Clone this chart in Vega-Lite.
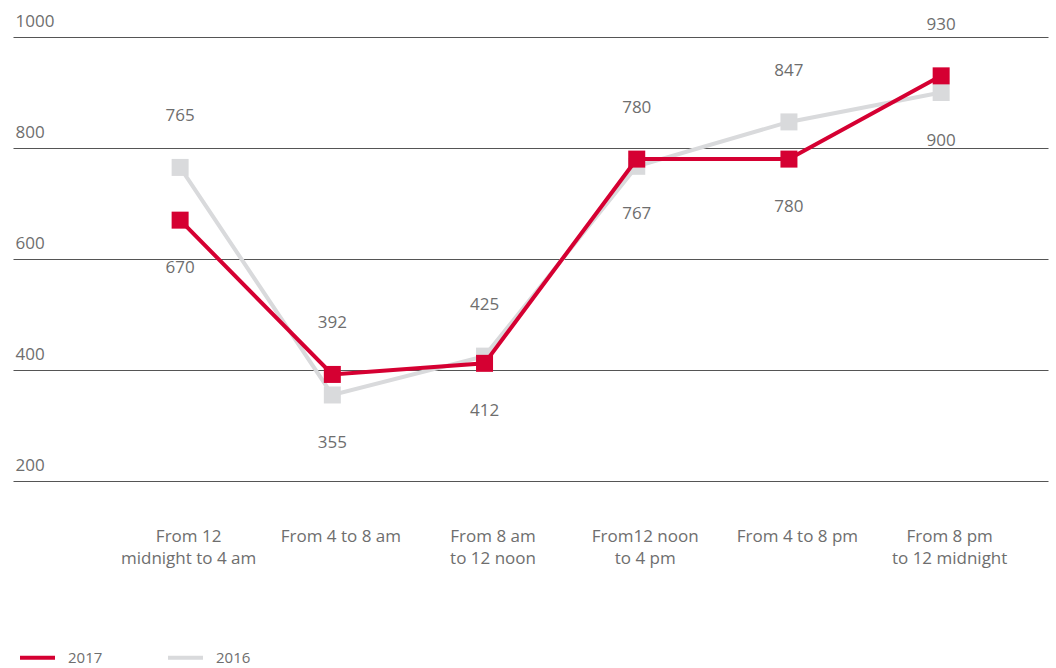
{
  "$schema": "https://vega.github.io/schema/vega-lite/v6.json",
  "width": 1035,
  "height": 444,
  "autosize": {"type": "none"},
  "padding": {"left": 13, "top": 37, "right": 8, "bottom": 187},
  "config": {
    "font": "Open Sans",
    "view": {"stroke": null},
    "text": {"font": "Open Sans"}
  },
  "data": {
    "values": [
      {"time": "From 12|midnight to 4 am", "year": "2017", "value": 670},
      {"time": "From 4 to 8 am", "year": "2017", "value": 392},
      {"time": "From 8 am|to 12 noon", "year": "2017", "value": 412},
      {"time": "From12 noon|to 4 pm", "year": "2017", "value": 780},
      {"time": "From 4 to 8 pm", "year": "2017", "value": 780},
      {"time": "From 8 pm|to 12 midnight", "year": "2017", "value": 930},
      {"time": "From 12|midnight to 4 am", "year": "2016", "value": 765},
      {"time": "From 4 to 8 am", "year": "2016", "value": 355},
      {"time": "From 8 am|to 12 noon", "year": "2016", "value": 425},
      {"time": "From12 noon|to 4 pm", "year": "2016", "value": 767},
      {"time": "From 4 to 8 pm", "year": "2016", "value": 847},
      {"time": "From 8 pm|to 12 midnight", "year": "2016", "value": 900}
    ]
  },
  "transform": [
    {"joinaggregate": [{"op": "max", "field": "value", "as": "maxv"}], "groupby": ["time"]},
    {"calculate": "datum.value == datum.maxv ? 'above' : 'below'", "as": "pos"}
  ],
  "encoding": {
    "x": {
      "field": "time",
      "type": "nominal",
      "sort": null,
      "scale": {"type": "point", "padding": 0.9, "align": 0.61},
      "axis": {
        "title": null,
        "domain": false,
        "ticks": false,
        "labelAngle": 0,
        "labelExpr": "split(datum.label, '|')",
        "labelFontSize": 17,
        "labelColor": "#6e6e6e",
        "labelBaseline": "top",
        "labelPadding": 47,
        "labelLineHeight": 22,
        "labelOffset": 8
      }
    },
    "y": {
      "field": "value",
      "type": "quantitative",
      "scale": {"domain": [200, 1000], "nice": false, "zero": false},
      "axis": {
        "title": null,
        "values": [200, 400, 600, 800, 1000],
        "format": "d",
        "grid": true,
        "gridColor": "#555555",
        "gridWidth": 1,
        "domain": false,
        "ticks": false,
        "tickSize": 0,
        "labelAlign": "left",
        "labelPadding": -2,
        "labelBaseline": "alphabetic",
        "labelOffset": -11,
        "labelFontSize": 17,
        "labelColor": "#6e6e6e"
      }
    },
    "color": {
      "field": "year",
      "type": "nominal",
      "scale": {"domain": ["2017", "2016"], "range": ["#d50032", "#d9dadc"]},
      "legend": {
        "title": null,
        "orient": "none",
        "direction": "horizontal",
        "legendX": 5,
        "legendY": 601,
        "symbolType": "stroke",
        "symbolSize": 1225,
        "symbolStrokeWidth": 4,
        "labelFontSize": 15,
        "labelColor": "#6e6e6e",
        "labelOffset": 11,
        "columnPadding": 57
      }
    }
  },
  "layer": [
    {
      "transform": [{"filter": "datum.year == '2016'"}],
      "mark": {"type": "line", "strokeWidth": 4}
    },
    {
      "transform": [{"filter": "datum.year == '2016'"}],
      "mark": {"type": "point", "shape": "square", "filled": true, "size": 289, "opacity": 1}
    },
    {
      "transform": [{"filter": "datum.year == '2017'"}],
      "mark": {"type": "line", "strokeWidth": 4}
    },
    {
      "transform": [{"filter": "datum.year == '2017'"}],
      "mark": {"type": "point", "shape": "square", "filled": true, "size": 289, "opacity": 1}
    },
    {
      "transform": [{"filter": "datum.pos == 'above'"}],
      "mark": {"type": "text", "dy": -51, "fontSize": 17, "baseline": "middle"},
      "encoding": {"text": {"field": "value", "type": "quantitative"}, "color": {"value": "#6e6e6e"}}
    },
    {
      "transform": [{"filter": "datum.pos == 'below'"}],
      "mark": {"type": "text", "dy": 48, "fontSize": 17, "baseline": "middle"},
      "encoding": {"text": {"field": "value", "type": "quantitative"}, "color": {"value": "#6e6e6e"}}
    }
  ]
}
